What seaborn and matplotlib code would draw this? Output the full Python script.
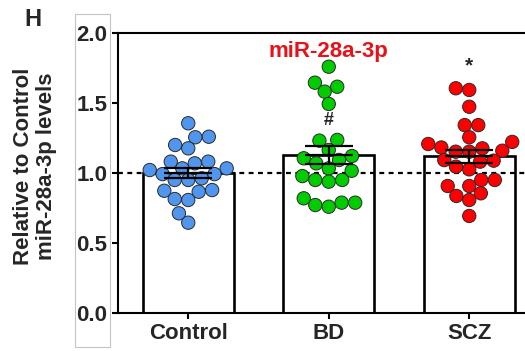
import numpy as np
import pandas as pd
import matplotlib
matplotlib.use("Agg")
import matplotlib.pyplot as plt
from matplotlib.patches import Rectangle
from matplotlib.ticker import FormatStrFormatter
import seaborn as sns

# ---- data ----
categories = ["Control", "BD", "SCZ"]
control = [1.353, 1.257, 1.253, 1.174, 1.198, 1.031, 1.031, 1.067, 1.079, 1.079,
           1.019, 0.948, 0.948, 0.960, 0.990, 0.990, 0.876, 0.864, 0.871, 0.812,
           0.805, 0.710, 0.643]
bd = [1.757, 1.643, 1.579, 1.614, 1.491, 1.229, 1.234, 1.162, 1.119, 1.091,
      1.103, 1.067, 1.031, 1.014, 0.976, 0.948, 0.948, 0.936, 0.817, 0.786,
      0.786, 0.769, 0.757]
scz = [1.591, 1.603, 1.471, 1.340, 1.340, 1.253, 1.220, 1.205, 1.150, 1.150,
       1.180, 1.174, 1.157, 1.086, 1.079, 1.090, 1.024, 1.043, 0.948, 0.948,
       0.905, 0.905, 0.853, 0.834, 0.805, 0.691]
y_ticks = [0.0, 0.5, 1.0, 1.5, 2.0]
title_text = "miR-28a-3p"
panel_letter = "H"
ylabel_text = "Relative to Control\nmiR-28a-3p levels"
marks = {"BD": "#", "SCZ": "*"}

colors = {"Control": "#5096ee", "BD": "#00cc00", "SCZ": "#ff0000"}

df = pd.DataFrame({
    "group": ["Control"] * len(control) + ["BD"] * len(bd) + ["SCZ"] * len(scz),
    "value": control + bd + scz,
})

sns.set_style("ticks")
plt.rcParams["font.family"] = ["Liberation Sans", "DejaVu Sans"]
plt.rcParams["font.weight"] = "bold"

W, H = 525, 351
fig = plt.figure(figsize=(W / 100, H / 100), dpi=100)
ax = fig.add_axes([118 / W, 1 - 312.7 / H, (539.5 - 118) / W, (312.7 - 32.7) / H])

sns.barplot(data=df, x="group", y="value", order=categories, errorbar=None,
            color="white", edgecolor="black", linewidth=1.9, width=0.65, ax=ax)
for p in ax.patches:
    p.set_zorder(1)

ax.axhline(1.0, color="black", lw=1.6, ls=(0, (2.2, 2)), zorder=1.5)

n_before = len(ax.collections)
sns.swarmplot(data=df, x="group", y="value", order=categories, hue="group",
              palette=colors, size=8.6, edgecolor="#2a2a2a", linewidth=0.7,
              legend=False, zorder=3, ax=ax, clip_on=False)
swarm_colls = ax.collections[n_before:]

means = df.groupby("group")["value"].mean().reindex(categories)
sems = df.groupby("group")["value"].sem().reindex(categories)
ax.errorbar(x=np.arange(len(categories)), y=means.values, yerr=sems.values,
            fmt="none", ecolor="black", elinewidth=1.6, capsize=17, capthick=1.6,
            zorder=5)
ax.errorbar(x=np.arange(len(categories)), y=means.values, fmt="_", color="black",
            markersize=34, mew=1.6, zorder=5)

ax.set_xlim(-0.5, 2.5)
ax.set_ylim(0, 2.0)
ax.set_yticks(y_ticks)
ax.yaxis.set_major_formatter(FormatStrFormatter("%.1f"))
ax.set_xlabel("")
ax.set_ylabel("")
for s in ["left", "bottom", "top"]:
    ax.spines[s].set_linewidth(1.5)
    ax.spines[s].set_color("black")
ax.spines["right"].set_visible(False)
ax.tick_params(axis="y", labelsize=16, width=1.5, length=4, pad=3.5, color="black")
ax.tick_params(axis="x", labelsize=16, width=1.5, length=4.5, pad=3, color="black")
for lab in ax.get_xticklabels() + ax.get_yticklabels():
    lab.set_fontweight("bold")

ax.text(1, 1.824, title_text, color="#e8111a", fontsize=16, fontweight="bold",
        ha="center", va="baseline")
ax.text(categories.index("BD"), 1.371, marks["BD"], fontsize=13, fontweight="bold",
        ha="center", va="center")
ax.text(categories.index("SCZ"), 1.76, marks["SCZ"], fontsize=15, fontweight="bold",
        ha="center", va="center")

fig.text(35 / W, 1 - 166 / H, ylabel_text, rotation=90, ha="center", va="center",
         fontsize=16, fontweight="bold", linespacing=1.1, multialignment="center")
fig.text(33 / W, 1 - 19.5 / H, panel_letter, ha="center", va="center",
         fontsize=17, fontweight="bold")

fig.patches.append(Rectangle((75.3 / W, 1 - 346.7 / H), 35 / W, (346.7 - 14) / H,
                             transform=fig.transFigure, fill=False,
                             ec="#c4c4c4", lw=0.8))

# lay out the swarm with a smaller footprint, then freeze it and enlarge markers,
# so the dots overlap a little like in the original figure
fig.canvas.draw()
for coll in swarm_colls:
    if "draw" in coll.__dict__:
        del coll.draw
    coll.set_sizes([9.6 ** 2])

fig.savefig("out.png", dpi=100)
